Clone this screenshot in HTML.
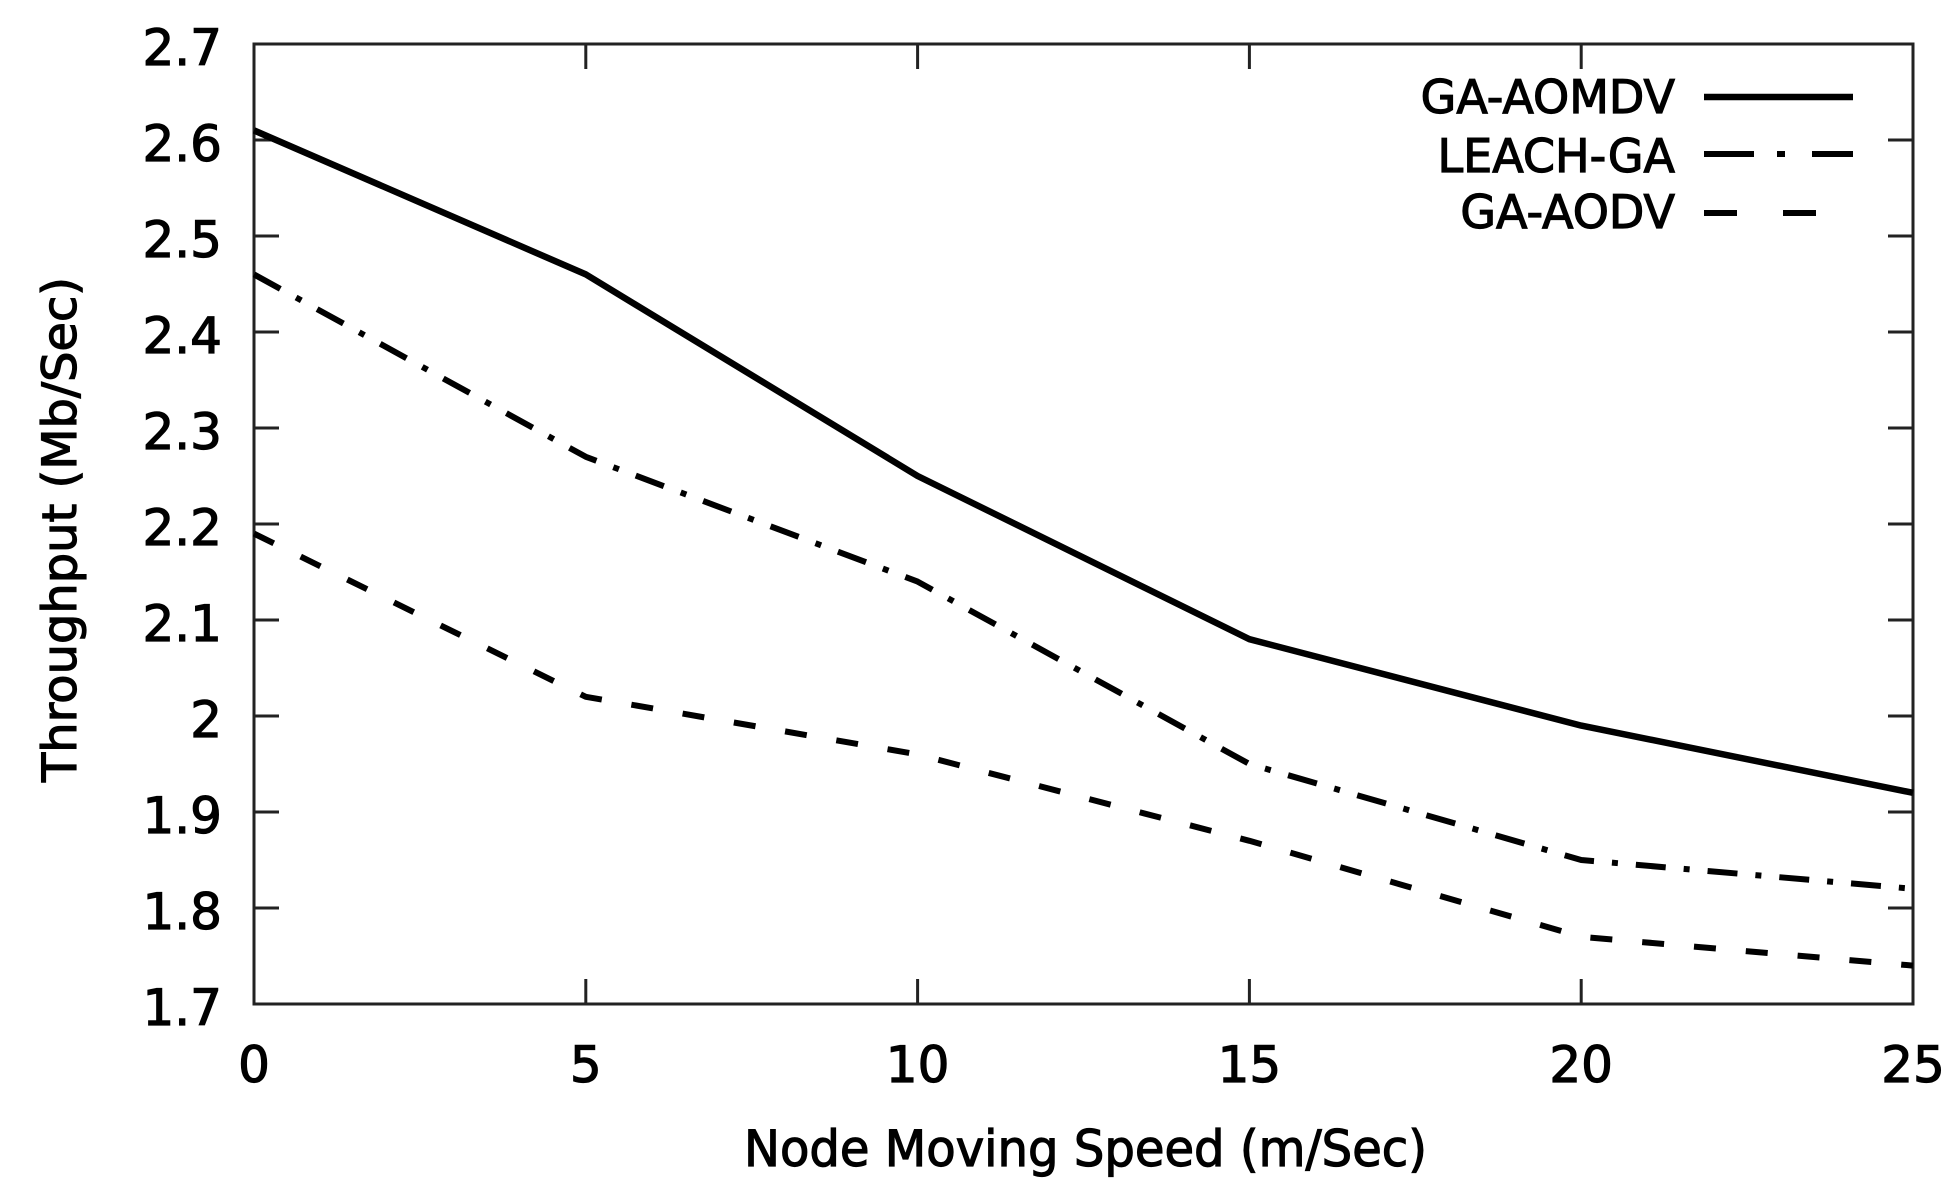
<!DOCTYPE html>
<html><head><meta charset="utf-8"><style>
html,body{margin:0;padding:0;background:#fff;}
svg{display:block;}
text{font-family:"DejaVu Sans","Liberation Sans",sans-serif;fill:#000;stroke:#000;stroke-width:1.2;}
</style></head><body>
<svg width="1956" height="1195" viewBox="0 0 1956 1195" xmlns="http://www.w3.org/2000/svg">
<rect width="1956" height="1195" fill="#fff"/>
<g stroke="#222" stroke-width="3" fill="none">
<rect x="254" y="44" width="1659" height="960"/>
<path d="M254 140h25M254 236h25M254 332h25M254 428h25M254 524h25M254 620h25M254 716h25M254 812h25M254 908h25
M1913 140h-25M1913 236h-25M1913 332h-25M1913 428h-25M1913 524h-25M1913 620h-25M1913 716h-25M1913 812h-25M1913 908h-25
M585.8 1004v-25M917.6 1004v-25M1249.4 1004v-25M1581.2 1004v-25
M585.8 44v25M917.6 44v25M1249.4 44v25M1581.2 44v25"/>
</g>
<g font-size="50" text-anchor="end">
<text x="222" y="65">2.7</text>
<text x="222" y="161">2.6</text>
<text x="222" y="257">2.5</text>
<text x="222" y="353">2.4</text>
<text x="222" y="449">2.3</text>
<text x="222" y="545">2.2</text>
<text x="222" y="641">2.1</text>
<text x="222" y="737">2</text>
<text x="222" y="833">1.9</text>
<text x="222" y="929">1.8</text>
<text x="222" y="1025">1.7</text>
</g>
<g font-size="50" text-anchor="middle">
<text x="254" y="1082">0</text>
<text x="585.8" y="1082">5</text>
<text x="917.6" y="1082">10</text>
<text x="1249.4" y="1082">15</text>
<text x="1581.2" y="1082">20</text>
<text x="1913" y="1082">25</text>
</g>
<text x="744" y="1166" font-size="50" textLength="683" lengthAdjust="spacingAndGlyphs">Node Moving Speed (m/Sec)</text>
<text transform="translate(76,782) rotate(-90)" font-size="47" textLength="505" lengthAdjust="spacingAndGlyphs">Throughput (Mb/Sec)</text>
<g font-size="46" text-anchor="end">
<text x="1675" y="113">GA-AOMDV</text>
<text x="1675" y="172">LEACH-GA</text>
<text x="1675" y="228">GA-AODV</text>
</g>
<g fill="none" stroke="#000" stroke-width="6.5" stroke-linejoin="round">
<polyline points="254,130.4 585.8,274.4 917.6,476 1249.4,639.2 1581.2,725.6 1913,792.8"/>
<polyline stroke-width="6" stroke-dasharray="30 18 6 18" points="254,274.4 585.8,456.8 917.6,581.6 1249.4,764 1581.2,860 1913,888.8"/>
<polyline stroke-width="6" stroke-dasharray="22 30" points="254,533.6 585.8,696.8 917.6,754.4 1249.4,840.8 1581.2,936.8 1913,965.6"/>
<path d="M1704 97h149"/>
<path stroke-width="6" d="M1704 154h50M1777 154h8M1812 154h41"/>
<path stroke-width="6" d="M1704 213h33M1783 213h33"/>
</g>
</svg>
</body></html>
